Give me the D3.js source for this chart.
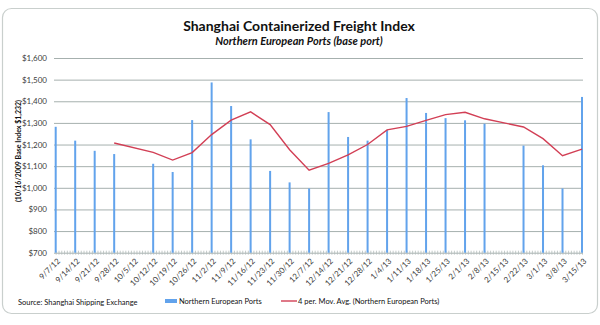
<!DOCTYPE html>
<html><head><meta charset="utf-8">
<script src="https://cdn.jsdelivr.net/npm/d3@7"></script>
<style>
html,body{margin:0;padding:0;background:#fff;}
svg{display:block;font-family:Lato,"Open Sans",sans-serif;}
</style></head>
<body>
<svg id="c" width="600" height="325"></svg>
<script>
const weekLabels = ["9/7/12","9/14/12","9/21/12","9/28/12","10/5/12","10/12/12","10/19/12","10/26/12","11/2/12","11/9/12","11/16/12","11/23/12","11/30/12","12/7/12","12/14/12","12/21/12","12/28/12","1/4/13","1/11/13","1/18/13","1/25/13","2/1/13","2/8/13","2/15/13","2/22/13","3/1/13","3/8/13","3/15/13"];
const freight = [1282,1218,1171,1156,null,1111,1073,1313,1487,1378,1224,1078,1025,997,1350,1235,1218,1267,1415,1346,1322,1312,1296,null,1195,1104,997,1420];
const movAvg = [null,null,null,1207,null,1164,1128,1163,1246,1313,1351,1292,1176,1081,1113,1152,1200,1268,1284,1312,1338,1349,1319,null,1281,1227,1148,1179];
const yTicks = [700,800,900,1000,1100,1200,1300,1400,1500,1600];
const title = "Shanghai Containerized Freight Index";
const subtitle = "Northern European Ports (base port)";
const yTitle = "(10/16/2009 Base Index $1,232)";
const source = "Source: Shanghai Shipping Exchange";
const barName = "Northern European Ports";
const lineName = "4 per. Mov. Avg. (Northern European Ports)";

const parse = d3.timeParse("%m/%d/%y");
const dates = weekLabels.map(parse);

const svg = d3.select("#c");
const textCol = "#404040";

// frame
svg.append("rect").attr("x",2.5).attr("y",8.5).attr("width",595).attr("height",305)
  .attr("rx",9).attr("fill","#fff").attr("stroke","#c9cfcd").attr("stroke-width",1.2);

const x = d3.scaleTime().domain([dates[0], dates[dates.length-1]]).range([55.7, 582]);
const y = d3.scaleLinear().domain([700,1600]).range([252.7, 58]);

// gridlines
const grid = svg.append("g")
  .call(d3.axisLeft(y).tickValues(yTicks).tickSize(-529).tickFormat(""))
  .attr("transform","translate(54,0)");
grid.select(".domain").remove();
grid.selectAll("line").attr("stroke","#a6b0ae").attr("stroke-width",1);

// y labels
const yl = svg.append("g").attr("transform","translate(54,0)")
  .call(d3.axisLeft(y).tickValues(yTicks).tickSize(0).tickPadding(7).tickFormat(d=>"$"+d3.format(",")(d)));
yl.select(".domain").remove();
yl.selectAll("text").attr("fill",textCol).style("font-size","8px").style("font-family","Lato");

// daily minor ticks
const daily = d3.timeDay.range(dates[0], d3.timeDay.offset(dates[dates.length-1],1));
const xMinor = svg.append("g").attr("transform",`translate(0,${y(700)})`)
  .call(d3.axisBottom(x).tickValues(daily).tickSize(2).tickFormat(""));
xMinor.select(".domain").remove();
xMinor.selectAll("line").attr("stroke","#b4bcbb").attr("y1",-2).attr("stroke-width",0.8);

// bars
svg.append("g").selectAll("rect").data(freight.map((v,i)=>({d:dates[i],v})).filter(o=>o.v!=null))
  .join("rect")
  .attr("x",o=>x(o.d)-1).attr("width",2)
  .attr("y",o=>y(o.v)).attr("height",o=>y(700)-y(o.v))
  .attr("fill","#62a3ec");

// x labels
svg.append("g").selectAll("text").data(dates).join("text")
  .attr("transform",d=>`translate(${x(d)+3},${y(700)+7}) rotate(-45)`)
  .attr("text-anchor","end").attr("dy","0.35em")
  .attr("fill",textCol).style("font-size","8px")
  .text((d,i)=>weekLabels[i]);

// moving avg line
const pts = movAvg.map((v,i)=>({d:dates[i],v})).filter(o=>o.v!=null);
svg.append("path").datum(pts)
  .attr("d",d3.line().x(o=>x(o.d)).y(o=>y(o.v)))
  .attr("fill","none").attr("stroke","#d23f55").attr("stroke-width",1.4);

// titles
svg.append("text").attr("x",299).attr("y",31).attr("text-anchor","middle")
  .attr("fill","#111").style("font-size","14px").style("font-weight","bold").text(title);
svg.append("text").attr("x",299).attr("y",45).attr("text-anchor","middle")
  .attr("fill","#111").style("font-size","11px").style("font-weight","bold").style("font-style","italic").text(subtitle);

// y title
svg.append("text").attr("transform","translate(21,151) rotate(-90)").attr("text-anchor","middle")
  .attr("fill","#111").style("font-size","7px").style("font-weight","bold").text(yTitle);

// source
svg.append("text").attr("x",18).attr("y",305).attr("fill","#111").style("font-size","7.5px").text(source);

// legend
svg.append("rect").attr("x",165).attr("y",299).attr("width",12).attr("height",4).attr("fill","#62a3ec");
svg.append("text").attr("x",179).attr("y",304).attr("fill","#111").style("font-size","7.5px").text(barName);
svg.append("line").attr("x1",281).attr("x2",297).attr("y1",301).attr("y2",301).attr("stroke","#d23f55").attr("stroke-width",1.4);
svg.append("text").attr("x",298).attr("y",304).attr("fill","#111").style("font-size","7.5px").text(lineName);
</script>
</body></html>
